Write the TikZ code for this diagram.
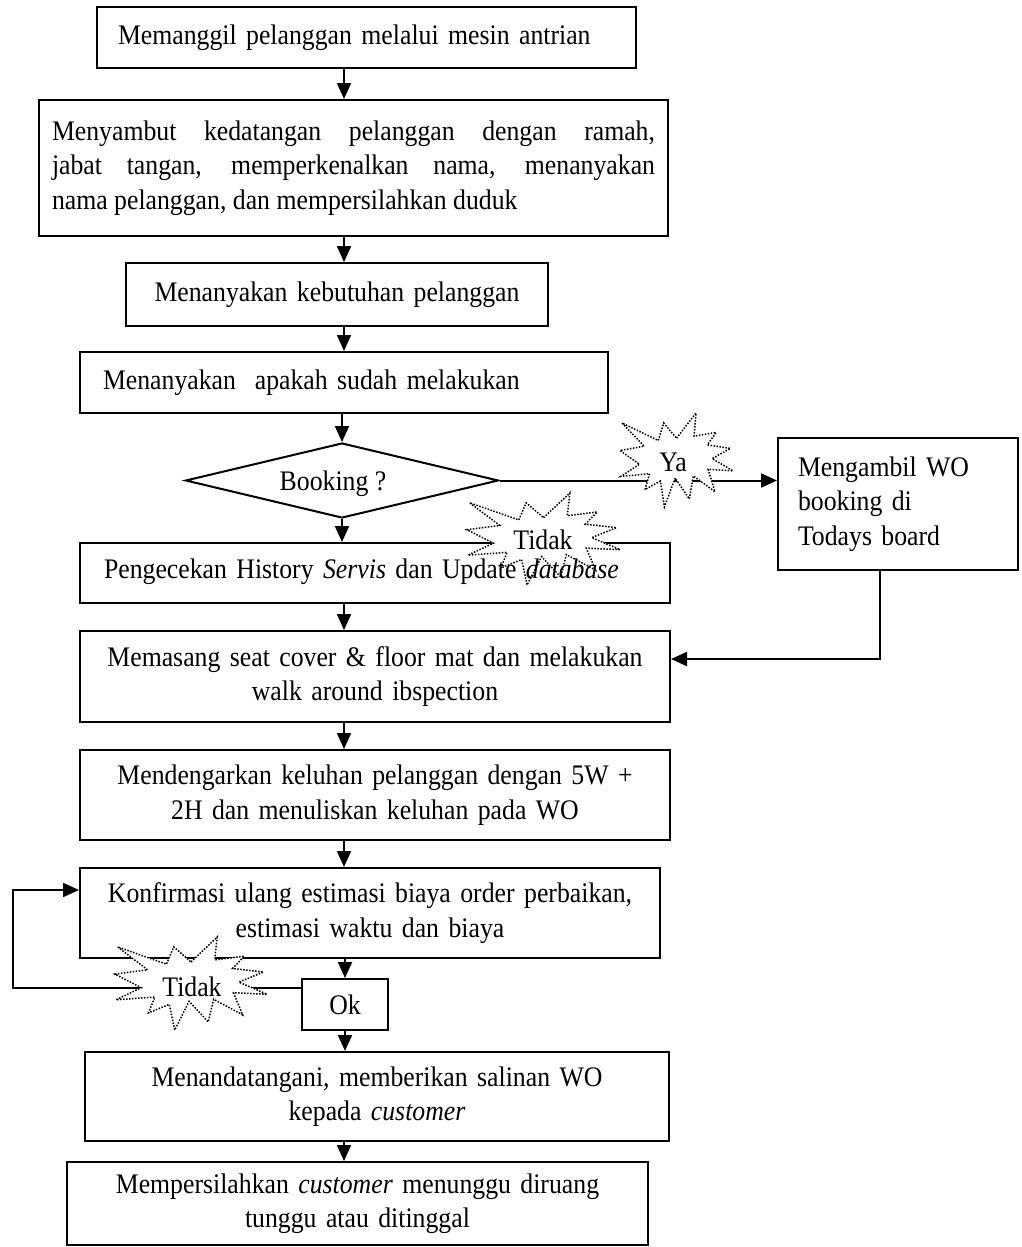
\documentclass[tikz,border=0pt]{standalone}
\usepackage{fontspec}
\setmainfont{Liberation Serif}[FakeStretch=0.91]
\usetikzlibrary{shapes.geometric,arrows.meta,calc}
\newcommand{\sealpath}{(108,58) -- (145.22,0) -- (141.55,53.25) -- (183.8,44.57) -- (167.02,73.15) -- (210.97,81.37) -- (176.07,104.75) -- (216,132.9) -- (168.37,129.42) -- (181.45,180.95) -- (140.2,144.57) -- (132.47,197.37) -- (105.32,149.35) -- (84.85,216) -- (77.15,156.27) -- (47.62,176.17) -- (56.67,139.37) -- (1.35,145.87) -- (37.22,117.75) -- (0,86.15) -- (46.27,76.17) -- (3.7,22.95) -- (73.12,63.2) -- (83.52,22.95) -- cycle}
\tikzset{
  every node/.style={font=\fontsize{28.3}{34.5}\selectfont},
  box/.style={draw, line width=2pt, inner sep=0pt},
  arr/.style={line width=2pt, -{Triangle[length=16pt,width=14pt]}},
  sealfill/.style={fill=white, draw=none},
  sealline/.style={draw=black, line width=1.5pt, dash pattern=on 1.5pt off 1.5pt},
}
\begin{document}
\begin{tikzpicture}[x=1pt,y=-1pt]
\useasboundingbox (0,0) rectangle (1021,1247);
\coordinate (spine) at (344,0);
\coordinate (mgdrop) at (880,0);
\coordinate (loopL) at (13,937);

\node[box, minimum width=539pt, minimum height=61pt, text width=497pt, align=left] (b1) at (366.5,37.5) {Memanggil pelanggan melalui mesin antrian};
\node[box, minimum width=629pt, minimum height=136pt, text width=603pt, align=justify] (b2) at (353.5,168) {Menyambut kedatangan pelanggan dengan ramah,\linebreak jabat tangan, memperkenalkan nama, menanyakan\linebreak nama pelanggan, dan mempersilahkan duduk};
\node[box, minimum width=422pt, minimum height=63pt, text width=400pt, align=center] (b3) at (337,294.5) {Menanyakan kebutuhan pelanggan};
\node[box, minimum width=528pt, minimum height=61pt, text width=482pt, align=left] (b4) at (344,382.5) {Menanyakan\ \ apakah sudah melakukan};
\node[diamond, draw, line width=2pt, inner sep=0pt, minimum width=313pt, minimum height=75pt] (dia) at (342,480.5) {};
\node[inner sep=0pt] (diat) at (333,484) {Booking ?};
\node[box, minimum width=240pt, minimum height=132pt, text width=200pt, align=left] (mg) at (898,504) {Mengambil WO\\booking di\\Todays board};
\node[box, minimum width=590pt, minimum height=60pt] (pc) at (375,573) {};
\node[box, minimum width=590pt, minimum height=91pt, text width=560pt, align=center] (ms) at (375,676.5) {Memasang seat cover \& floor mat dan melakukan\\walk around ibspection};
\node[box, minimum width=590pt, minimum height=90pt, text width=560pt, align=center] (md) at (375,795) {Mendengarkan keluhan pelanggan dengan 5W +\\2H dan menuliskan keluhan pada WO};
\node[box, minimum width=580pt, minimum height=90pt, text width=560pt, align=center] (kf) at (370,913) {Konfirmasi ulang estimasi biaya order perbaikan,\\estimasi waktu dan biaya};
\node[box, minimum width=86pt, minimum height=51pt] (ok) at (345,1004.5) {Ok};
\node[box, minimum width=584pt, minimum height=89pt, text width=560pt, align=center] (mt) at (377,1096.5) {Menandatangani, memberikan salinan WO\\kepada \textit{customer}};
\node[box, minimum width=581pt, minimum height=83pt, text width=560pt, align=center] (lb) at (357.5,1203.5) {Mempersilahkan \textit{customer} menunggu diruang\\tunggu atau ditinggal};

% connectors
\draw[arr] (b1.south -| spine) -- (b2.north -| spine);
\draw[arr] (b2.south -| spine) -- (b3.north -| spine);
\draw[arr] (b3.south -| spine) -- (b4.north -| spine);
\draw[arr] (b4.south -| dia.north) -- (dia.north);
\draw[arr] (dia.south) -- (pc.north -| dia.south);
\draw[arr] (dia.east) -- (dia.east -| mg.west);
\draw[arr] (pc.south -| spine) -- (ms.north -| spine);
\draw[arr] (mg.south -| mgdrop) |- ([yshift=17.5pt]ms.east);
\draw[arr] (ms.south -| spine) -- (md.north -| spine);
\draw[arr] (md.south -| spine) -- (kf.north -| spine);
\draw[arr] (kf.south -| ok.north) -- (ok.north);
\draw[arr] ([yshift=17pt]ok.west) -| (loopL) |- ([yshift=23pt]kf.west);
\draw[arr] (ok.south) -- (mt.north -| ok.south);
\draw[arr] (mt.south -| spine) -- (lb.north -| spine);

% seal Ya
\begin{scope}[shift={(620,413)}, xscale=113/216, yscale=94/216]
  \path[sealfill] \sealpath;
  \path[sealline] \sealpath;
\end{scope}
\node[inner sep=0pt] (ya) at (673,462) {Ya};

% seal Tidak (top)
\begin{scope}[shift={(467,493)}, xscale=153/216, yscale=92/216]
  \path[sealfill] \sealpath;
\end{scope}
\node[inner sep=0pt, text width=542pt, align=left] (pct) at (375,572) {Pengecekan History \textit{Servis} dan Update \textit{database}};
\begin{scope}[shift={(467,493)}, xscale=153/216, yscale=92/216]
  \path[sealline] \sealpath;
\end{scope}
\node[inner sep=0pt] (tdk1) at (543,540) {Tidak};

% seal Tidak (bottom)
\begin{scope}[shift={(115,937)}, xscale=152/216, yscale=93/216]
  \path[sealfill] \sealpath;
  \path[sealline] \sealpath;
\end{scope}
\node[inner sep=0pt] (tdk2) at (192,987) {Tidak};
\end{tikzpicture}
\end{document}
